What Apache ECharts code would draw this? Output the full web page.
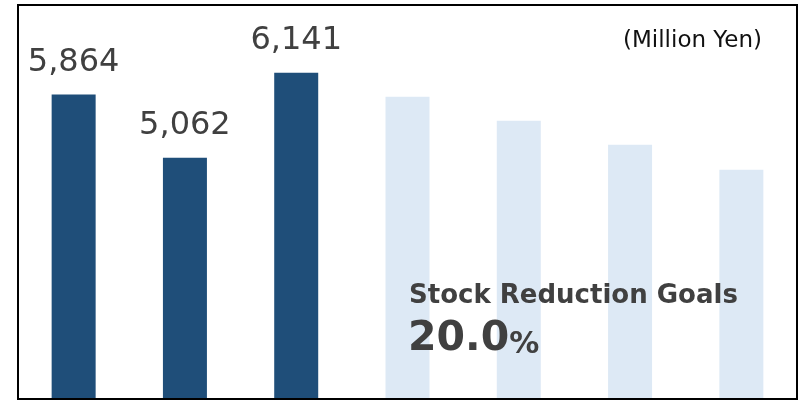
<!DOCTYPE html>
<html>
<head>
<meta charset="utf-8">
<script src="https://cdn.jsdelivr.net/npm/echarts@6/dist/echarts.min.js"></script>
<style>
    html, body { margin: 0; padding: 0; background: #fff; }
    #chart { width: 802px; height: 401px; }
</style>
</head>
<body>
<div id="chart"></div>
<script>
// fiscal periods (no labels shown on the chart)
const categories = ['FY1', 'FY2', 'FY3', 'FY4', 'FY5', 'FY6', 'FY7'];
// actual stock (Million Yen)
const actualValues = [5864, 5062, 6141, '-', '-', '-', '-'];
// planned stock towards reduction goal
const goalValues = ['-', '-', '-', 5835, 5531, 5227, 4910];

const unitText = '(Million Yen)';
const goalTitle = 'Stock Reduction Goals';
const goalRate = '20.0';

const chart = echarts.init(document.getElementById('chart'));

let option = {
    animation: false,
    grid: { left: 18, right: 5, top: 5, bottom: 2 },
    xAxis: {
        type: 'category',
        data: categories,
        axisLine: { show: false },
        axisTick: { show: false },
        axisLabel: { show: false }
    },
    yAxis: {
        type: 'value',
        min: 2000,
        max: 7000,
        show: false,
        splitLine: { show: false }
    },
    series: [
        {
            type: 'bar',
            data: actualValues,
            barWidth: 44,
            barGap: '-100%',
            itemStyle: { color: '#1F4E79' },
            label: {
                show: true,
                position: 'top',
                distance: 16,
                fontFamily: 'DejaVu Sans',
                fontSize: 32,
                color: '#404040',
                formatter: p => p.value.toLocaleString('en-US')
            }
        },
        {
            type: 'bar',
            data: goalValues,
            barWidth: 44,
            itemStyle: { color: '#DDE9F5' }
        }
    ],
    graphic: [
        {
            type: 'rect',
            shape: { x: 18, y: 5, width: 779, height: 394 },
            style: { fill: 'none', stroke: '#000', lineWidth: 2 },
            z: 100
        },
        {
            type: 'text',
            left: 623,
            top: 30,
            z: 100,
            style: {
                text: unitText,
                font: '23px "DejaVu Sans"',
                fill: '#111'
            }
        },
        {
            type: 'text',
            left: 409,
            top: 283,
            z: 100,
            style: {
                text: goalTitle,
                font: 'bold 26px "DejaVu Sans"',
                fill: '#404040'
            }
        },
        {
            type: 'text',
            left: 408,
            top: 319,
            z: 100,
            style: {
                text: '{num|' + goalRate + '}{pct|%}',
                rich: {
                    num: { fontFamily: 'DejaVu Sans', fontWeight: 'bold', fontSize: 41, fill: '#404040', verticalAlign: 'bottom' },
                    pct: { fontFamily: 'DejaVu Sans', fontWeight: 'bold', fontSize: 30, fill: '#404040', verticalAlign: 'bottom' }
                }
            }
        }
    ]
};

chart.setOption(option);
</script>
</body>
</html>
